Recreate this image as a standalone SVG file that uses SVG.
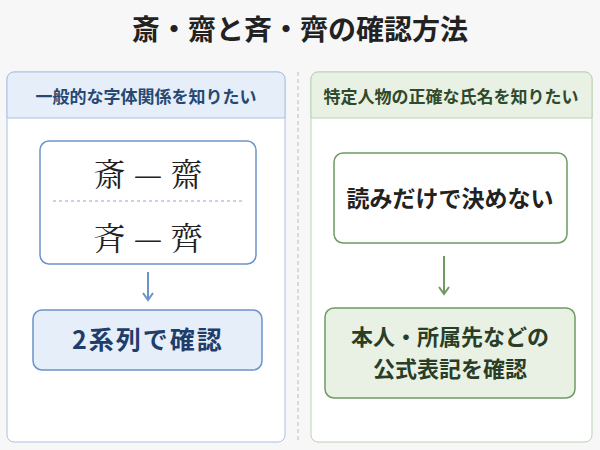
<svg xmlns="http://www.w3.org/2000/svg" width="600" height="450" viewBox="0 0 600 450">
<style>
.s{font-family:"Noto Sans CJK JP","Noto Sans",sans-serif;font-weight:bold}
.m{font-family:"Noto Serif CJK JP","Noto Sans CJK JP",serif;font-size:32px}
</style>
<defs>
<marker id="ab" viewBox="0 0 10 12" refX="8" refY="6" markerWidth="10" markerHeight="12" markerUnits="userSpaceOnUse" orient="auto"><path d="M1,1 L8,6 L1,11" fill="none" stroke="#6a93cc" stroke-width="2"/></marker>
<marker id="ag" viewBox="0 0 10 12" refX="8" refY="6" markerWidth="10" markerHeight="12" markerUnits="userSpaceOnUse" orient="auto"><path d="M1,1 L8,6 L1,11" fill="none" stroke="#6f9a62" stroke-width="2"/></marker>
</defs>
<rect width="600" height="450" fill="#f7f7f7"/>
<text x="300" y="40" text-anchor="middle" class="s" font-size="28" fill="#222">斎・齋と斉・齊の確認方法</text>
<line x1="298" y1="72" x2="298" y2="440" stroke="#bbb" stroke-dasharray="4,3"/>
<g id="leftPanel">
<rect x="7" y="72" width="278" height="370" rx="7" fill="#fff" stroke="#a9c2e4"/>
<path d="M7,118 V79 a7,7 0 0 1 7,-7 H278 a7,7 0 0 1 7,7 V118 Z" fill="#e6eef9" stroke="#a9c2e4"/>
<text x="146" y="103" text-anchor="middle" class="s" font-size="17" fill="#274872">一般的な字体関係を知りたい</text>
</g>
<g id="rightPanel">
<rect x="311" y="72" width="281" height="370" rx="7" fill="#fff" stroke="#b9d3b0"/>
<path d="M311,118 V79 a7,7 0 0 1 7,-7 H585 a7,7 0 0 1 7,7 V118 Z" fill="#e8f1e4" stroke="#b9d3b0"/>
<text x="451" y="103" text-anchor="middle" class="s" font-size="17" fill="#2f4a2a">特定人物の正確な氏名を知りたい</text>
</g>
<g id="glyphs">
<rect x="40" y="141" width="216" height="123" rx="9" fill="#fff" stroke="#6a93cc" stroke-width="1.5"/>
<text x="148" y="186" text-anchor="middle" class="m" fill="#222">斎 — 齋</text>
<line x1="53" y1="201" x2="245" y2="201" stroke="#8aa9d4" stroke-dasharray="3,3"/>
<text x="148" y="250" text-anchor="middle" class="m" fill="#222">斉 — 齊</text>
</g>
<g id="confirm2">
<rect x="33" y="310" width="229" height="60" rx="9" fill="#e6eef9" stroke="#6a93cc" stroke-width="1.5"/>
<text x="148" y="349" text-anchor="middle" class="s" font-size="25" letter-spacing="2" fill="#1f3d6b">2系列で確認</text>
</g>
<g id="noread">
<rect x="334" y="153" width="233" height="90" rx="9" fill="#fff" stroke="#6f9a62" stroke-width="1.5"/>
<text x="450" y="207" text-anchor="middle" class="s" font-size="23" fill="#222">読みだけで決めない</text>
</g>
<g id="check">
<rect x="325" y="308" width="250" height="90" rx="9" fill="#e8f1e4" stroke="#6f9a62" stroke-width="1.5"/>
<text x="450" y="345" text-anchor="middle" class="s" font-size="22" fill="#2a3d26">本人・所属先などの</text>
<text x="450" y="377" text-anchor="middle" class="s" font-size="22" fill="#2a3d26">公式表記を確認</text>
</g>
<g id="connectors">
<line x1="148" y1="272" x2="148" y2="300" stroke="#6a93cc" stroke-width="2" marker-end="url(#ab)"/>
<line x1="444" y1="256" x2="444" y2="294" stroke="#6f9a62" stroke-width="2" marker-end="url(#ag)"/>
</g>
</svg>
